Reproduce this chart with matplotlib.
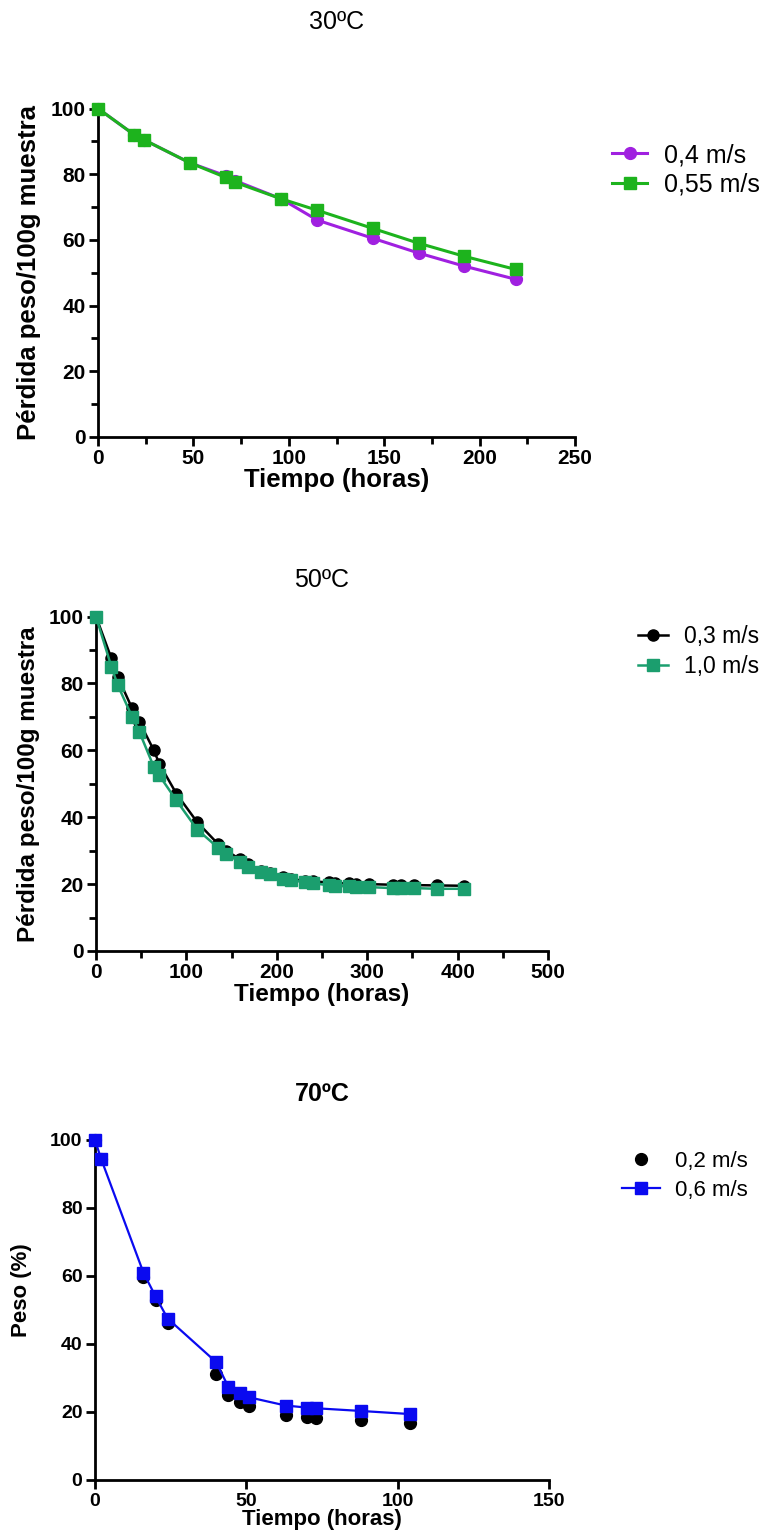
import numpy as np
import matplotlib
matplotlib.use("Agg")
from matplotlib import pyplot as plt
from matplotlib.ticker import MultipleLocator

plt.rcParams['font.family'] = ['Liberation Sans', 'DejaVu Sans']

# 30 C
t30 = [0, 19, 24, 48, 67, 72, 96, 115, 144, 168, 192, 219]
w30_04 = [100, 92, 90.5, 83.5, 79.5, 78, 72.5, 66, 60.5, 56, 52, 48]
w30_055 = [100, 92, 90.5, 83.5, 79, 77.5, 72.5, 69, 63.5, 59, 55, 51]

# 50 C
t50 = [0, 17, 24, 40, 48, 64, 70, 89, 112, 135, 144, 159, 168, 183, 192,
       207, 216, 231, 240, 258, 264, 280, 288, 302, 328, 337, 352, 377, 407]
w50_03 = [100, 87.5, 82, 72.5, 68.5, 60, 56, 47, 38.5, 32, 30, 27.5, 26, 24, 23.2,
          22, 21.5, 21, 20.8, 20.5, 20.3, 20.2, 20, 20, 19.8, 19.8, 19.7, 19.6, 19.5]
w50_10 = [100, 85, 79.5, 70, 65.5, 55, 52.5, 45, 36.3, 30.9, 29.1, 26.6, 25.1, 23.6, 22.9,
          21.6, 21.1, 20.6, 20.3, 19.6, 19.5, 19.3, 19.2, 19.1, 18.8, 18.8, 18.8, 18.6, 18.6]

# 70 C
t70 = [0, 2, 16, 20, 24, 40, 44, 48, 51, 63, 70, 73, 88, 104]
w70_02 = [100, 94.5, 59.8, 52.8, 46.2, 31.1, 25.1, 23, 21.9, 19.2, 18.4, 18.3, 17.6, 16.9]
w70_06 = [100, 94.5, 61, 54, 47.5, 34.7, 27.5, 25.6, 24.3, 21.9, 21.3, 21.1, 20.3, 19.4]

W, H = 771, 1530
fig = plt.figure(figsize=(W / 100, H / 100), dpi=100)


def px_axes(l, r, t, b):
    return fig.add_axes([l / W, 1 - b / H, (r - l) / W, (b - t) / H])


def style(ax, xmax, xstep, tick_fs, minors=True):
    for s in ['top', 'right']:
        ax.spines[s].set_visible(False)
    for s in ['left', 'bottom']:
        ax.spines[s].set_linewidth(2)
    ax.set_xlim(0, xmax)
    ax.set_ylim(0, 100)
    xt = np.arange(0, xmax + 1, xstep)
    yt = np.arange(0, 101, 20)
    ax.set_xticks(xt, [str(v) for v in xt], fontweight='bold', fontsize=tick_fs)
    ax.set_yticks(yt, [str(v) for v in yt], fontweight='bold', fontsize=tick_fs)
    if minors:
        ax.xaxis.set_minor_locator(MultipleLocator(xstep / 2))
        ax.yaxis.set_minor_locator(MultipleLocator(10))
    ax.tick_params(which='major', direction='out', length=6.5, width=2, pad=2.5)
    ax.tick_params(which='minor', direction='out', length=5, width=2)


def labels(ax, l, r, t, b, xl, yl, xlab_y, ylab_x, fs, ylab_y=None):
    ax.set_xlabel(xl, fontsize=fs, fontweight='bold')
    ax.set_ylabel(yl, fontsize=fs, fontweight='bold')
    ax.xaxis.set_label_coords(0.5, -(xlab_y - b) / (b - t))
    ax.xaxis.label.set_va('center')
    if ylab_y is None:
        ylab_y = (t + b) / 2
    ax.yaxis.set_label_coords((ylab_x - l) / (r - l), (b - ylab_y) / (b - t))
    ax.yaxis.label.set_va('center')


# ---- 30 C
l, r, t, b = 98, 575, 108.5, 437
ax1 = px_axes(l, r, t, b)
ax1.plot(t30, w30_04, '-o', color='#A020E0', lw=2.2, ms=8.5, label='0,4 m/s', clip_on=False, zorder=3)
ax1.plot(t30, w30_055, '-s', color='#1DB31D', lw=2.2, ms=8.5, label='0,55 m/s', clip_on=False, zorder=4)
style(ax1, 250, 50, 15)
labels(ax1, l, r, t, b, 'Tiempo (horas)', 'Pérdida peso/100g muestra', 480, 29, 18.5)
fig.text(337 / W, 1 - 22 / H, '30ºC', ha='center', va='center', fontsize=18)
ax1.legend(loc='upper left', bbox_to_anchor=(612 / W, 1 - 143 / H), bbox_transform=fig.transFigure,
           frameon=False, fontsize=18, handlelength=1.4, handletextpad=0.7, labelspacing=0.22,
           borderpad=0, borderaxespad=0)

# ---- 50 C
l, r, t, b = 96, 548, 616.5, 951
ax2 = px_axes(l, r, t, b)
ax2.plot(t50, w50_03, '-o', color='black', lw=1.8, ms=8, label='0,3 m/s', clip_on=False, zorder=3)
ax2.plot(t50, w50_10, '-s', color='#1B9E6E', lw=1.8, ms=8.5, label='1,0 m/s', clip_on=False, zorder=4)
style(ax2, 500, 100, 15)
labels(ax2, l, r, t, b, 'Tiempo (horas)', 'Pérdida peso/100g muestra', 995, 29, 17.5)
fig.text(322 / W, 1 - 580 / H, '50ºC', ha='center', va='center', fontsize=18)
ax2.legend(loc='upper left', bbox_to_anchor=(638 / W, 1 - 625 / H), bbox_transform=fig.transFigure,
           frameon=False, fontsize=16.5, handlelength=1.3, handletextpad=0.7, labelspacing=0.3,
           borderpad=0, borderaxespad=0)

# ---- 70 C
l, r, t, b = 95, 549, 1140, 1480
ax3 = px_axes(l, r, t, b)
ax3.plot(t70, w70_02, 'o', color='black', ms=8.5, label='0,2 m/s', clip_on=False, zorder=3)
ax3.plot(t70, w70_06, '-s', color='#0A0AF0', lw=1.6, ms=8.5, label='0,6 m/s', clip_on=False, zorder=4)
style(ax3, 150, 50, 14, minors=False)
labels(ax3, l, r, t, b, 'Tiempo (horas)', 'Peso (%)', 1520, 22, 16, ylab_y=1290)
fig.text(322 / W, 1 - 1094 / H, '70ºC', ha='center', va='center', fontsize=18, fontweight='bold')
ax3.legend(loc='upper left', bbox_to_anchor=(622 / W, 1 - 1151 / H), bbox_transform=fig.transFigure,
           frameon=False, fontsize=16, handlelength=1.7, handletextpad=0.7, labelspacing=0.35,
           borderpad=0, borderaxespad=0)

fig.savefig('out.png', dpi=100)
